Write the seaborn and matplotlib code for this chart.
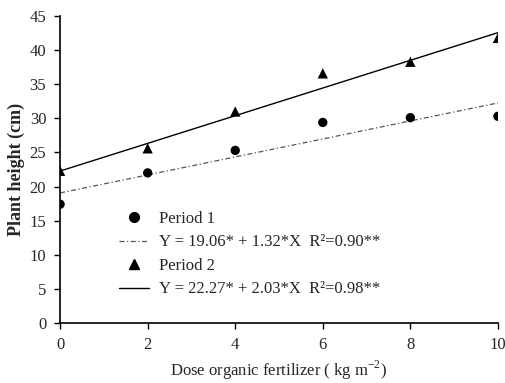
import numpy as np
import pandas as pd
import matplotlib
matplotlib.use('Agg')
import matplotlib.pyplot as plt
import seaborn as sns
from matplotlib.lines import Line2D

# Data
dose = [0, 2, 4, 6, 8, 10]
period1 = [17.4, 22.0, 25.3, 29.4, 30.1, 30.3]
period2 = [22.3, 25.6, 31.0, 36.6, 38.3, 41.8]

# Fitted equations given in the legend
fit1 = (19.06, 1.32)
fit2 = (22.27, 2.03)
fit_x = [0, 10]

sns.set_style('white')
plt.rcParams['font.family'] = ['Liberation Serif', 'DejaVu Serif']
plt.rcParams['mathtext.fontset'] = 'custom'
plt.rcParams['mathtext.rm'] = 'Liberation Serif'

df = pd.DataFrame({'dose': dose, 'p1': period1, 'p2': period2})
fit_df = pd.DataFrame({
    'x': fit_x,
    'y1': [fit1[0] + fit1[1] * x for x in fit_x],
    'y2': [fit2[0] + fit2[1] * x for x in fit_x],
})

fig = plt.figure(figsize=(5.05, 3.83), dpi=100)
ax = fig.add_axes([0.119, 0.157, 0.867, 0.801])

dashdot = (0, (4, 2, 1, 2))
sns.lineplot(data=fit_df, x='x', y='y1', ax=ax, color='#555555', linewidth=0.9,
             linestyle=dashdot)
sns.lineplot(data=fit_df, x='x', y='y2', ax=ax, color='black', linewidth=1.0)
sns.scatterplot(data=df, x='dose', y='p1', ax=ax, marker='o', color='black',
                s=45, edgecolor='none', zorder=3)
sns.scatterplot(data=df, x='dose', y='p2', ax=ax, marker='^', color='black',
                s=55, edgecolor='none', zorder=3)

ax.set_xlim(0, 10)
ax.set_ylim(0, 45)
ax.set_xticks([0, 2, 4, 6, 8, 10])
ax.set_yticks(range(0, 46, 5))
ax.tick_params(axis='both', direction='out', length=4, width=1, color='black',
               labelsize=12, bottom=True, left=True, pad=6)
for s in ['top', 'right']:
    ax.spines[s].set_visible(False)
for s in ['left', 'bottom']:
    ax.spines[s].set_color('black')
    ax.spines[s].set_linewidth(1.2)

ax.set_xlabel('Dose organic fertilizer ( kg m$^{-2}$)', fontsize=12, labelpad=4)
ax.set_ylabel('Plant height (cm)', fontsize=13, fontweight='bold', labelpad=3)

handles = [
    Line2D([], [], marker='o', color='black', linestyle='none', markersize=7),
    Line2D([], [], color='#555555', linewidth=0.9, linestyle=dashdot),
    Line2D([], [], marker='^', color='black', linestyle='none', markersize=7),
    Line2D([], [], color='black', linewidth=1.0),
]
labels = [
    'Period 1',
    'Y = 19.06* + 1.32*X  R²=0.90**',
    'Period 2',
    'Y = 22.27* + 2.03*X  R²=0.98**',
]
ax.legend(handles, labels, loc='upper left', bbox_to_anchor=(0.135, 0.365),
          frameon=False, fontsize=12, handlelength=1.8, handletextpad=0.6,
          labelspacing=0.45, borderaxespad=0, borderpad=0)

plt.savefig('out.png', dpi=100)
plt.close()
